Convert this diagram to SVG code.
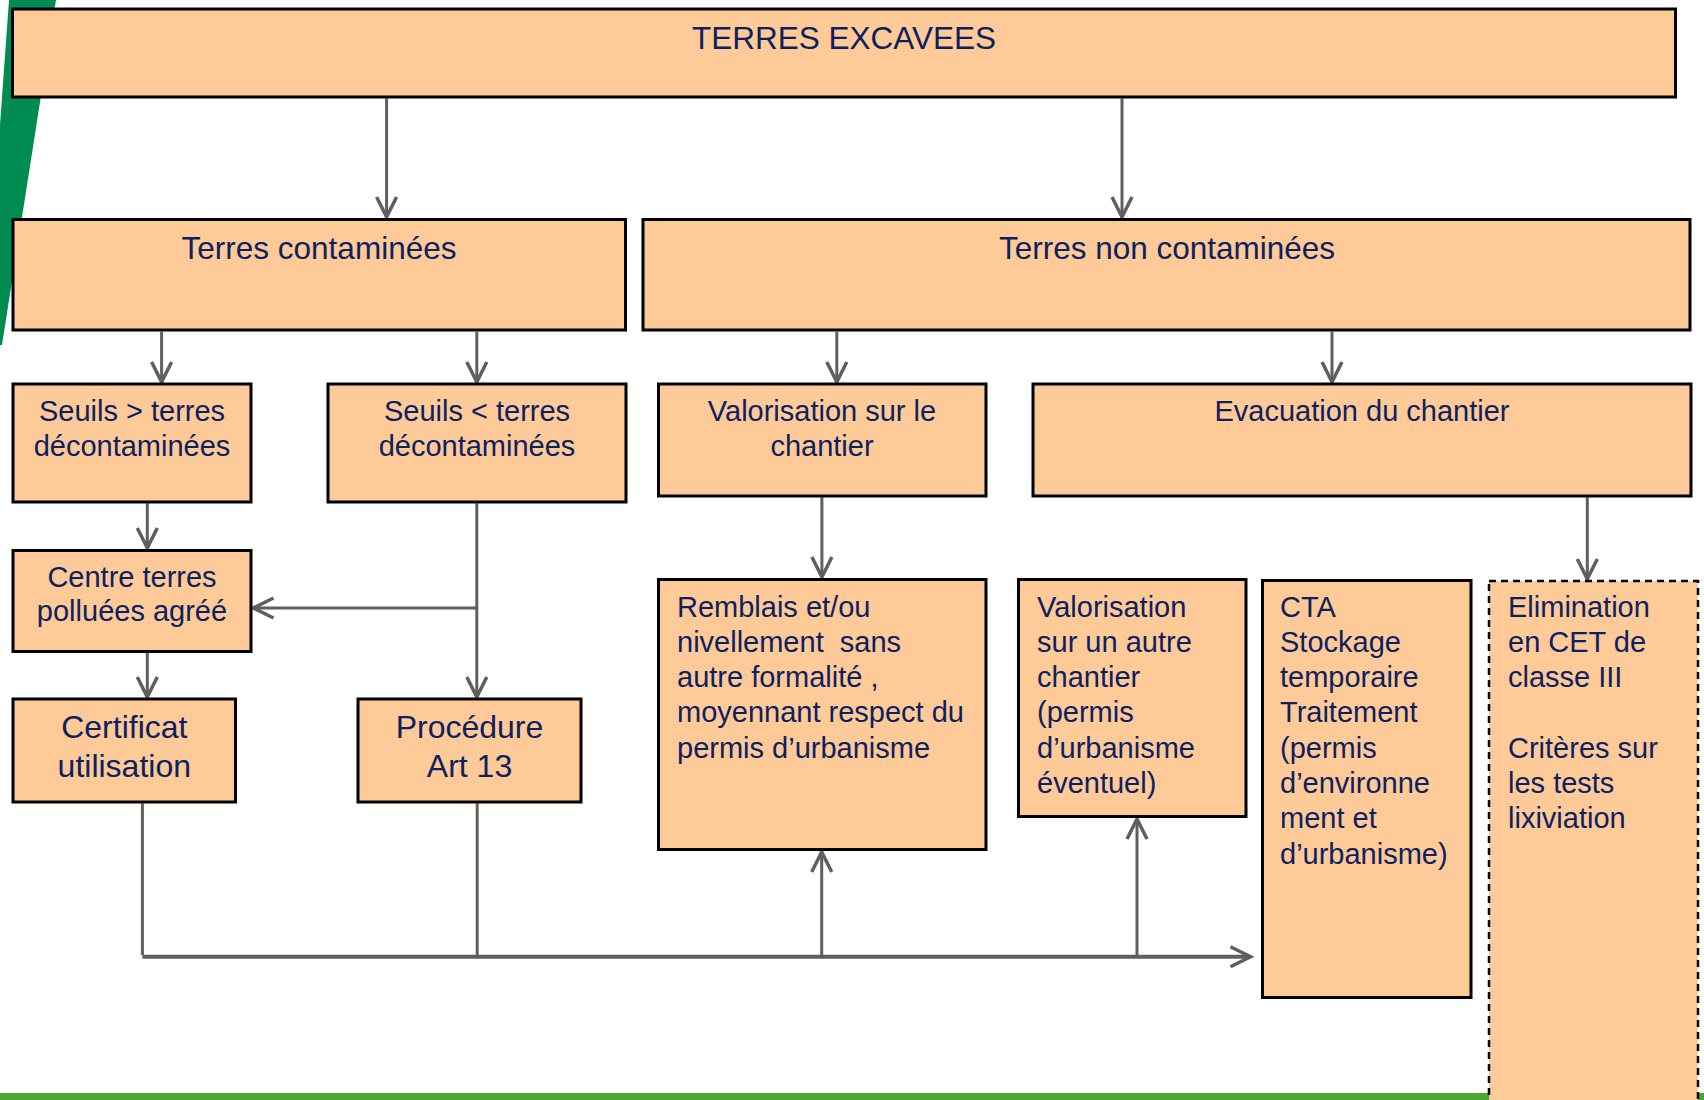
<svg xmlns="http://www.w3.org/2000/svg" width="1704" height="1100" viewBox="0 0 1704 1100">
  <defs>
    <style>
      .box { fill: #fdca98; stroke: #000; stroke-width: 3; }
      .dash { fill: #fdca98; stroke: #000; stroke-width: 2.5; stroke-dasharray: 7 5; }
      text { font-family: "Liberation Sans", Arial, sans-serif; fill: #0e215f; }
      .h { font-size: 31.5px; }
      .b { font-size: 32px; }
      .t { font-size: 29px; }
      .c { text-anchor: middle; }
      .ln { fill: none; stroke: #5f5f5f; stroke-width: 3; }
      .ar { marker-end: url(#arr); }
    </style>
    <marker id="arr" markerUnits="userSpaceOnUse" markerWidth="26" markerHeight="26" viewBox="0 0 26 26" refX="23" refY="13" orient="auto">
      <path d="M3,3 L23,13 L3,23" fill="none" stroke="#5f5f5f" stroke-width="3.5" stroke-linejoin="miter"/>
    </marker>
  </defs>

  <rect width="1704" height="1100" fill="#fff"/>
  <!-- background decorations -->
  <polygon points="9,0 56,0 2,345 0,345 0,125" fill="#008c50"/>
  <rect x="0" y="1093" width="1704" height="7" fill="#4aa832"/>

  <g id="connectors">
    <path class="ln ar" d="M386.6,98.5 V217"/>
    <path class="ln ar" d="M1122,98.5 V217"/>
    <path class="ln ar" d="M161.6,331.7 V382"/>
    <path class="ln ar" d="M476.8,331.7 V382"/>
    <path class="ln ar" d="M147.3,503.3 V548"/>
    <path class="ln ar" d="M476.8,503.3 V697"/>
    <path class="ln ar" d="M476.8,608 H253.5"/>
    <path class="ln ar" d="M147.3,653 V697"/>
    <path class="ln ar" d="M836.8,331.7 V382"/>
    <path class="ln ar" d="M1332,331.7 V382"/>
    <path class="ln ar" d="M821.9,497.3 V577"/>
    <path class="ln ar" d="M1587.3,497.3 V579"/>
    <path class="ln" d="M142.4,803.3 V955"/>
    <path class="ln" d="M477.2,803.3 V955"/>
    <path class="ln ar" d="M142.4,956.7 H1250.5" style="stroke-width:4"/>
    <path class="ln ar" d="M821.7,955 V852"/>
    <path class="ln ar" d="M1137,955 V819"/>
  </g>

  <g id="terres-excavees">
    <rect class="box" x="12.5" y="9" width="1663" height="88"/>
    <text class="h c" x="844" y="49">TERRES EXCAVEES</text>
  </g>
  <g id="terres-contaminees">
    <rect class="box" x="13" y="219.5" width="612.5" height="110.5"/>
    <text class="h c" x="319" y="258.5">Terres contaminées</text>
  </g>
  <g id="terres-non-contaminees">
    <rect class="box" x="643" y="219.5" width="1047" height="110.5"/>
    <text class="h c" x="1167" y="258.5">Terres non contaminées</text>
  </g>
  <g id="seuils-sup">
    <rect class="box" x="13" y="384" width="238" height="118"/>
    <text class="t c" x="132" y="420.7">Seuils &gt; terres</text>
    <text class="t c" x="132" y="456">décontaminées</text>
  </g>
  <g id="seuils-inf">
    <rect class="box" x="328" y="384" width="298" height="118"/>
    <text class="t c" x="477" y="420.7">Seuils &lt; terres</text>
    <text class="t c" x="477" y="456">décontaminées</text>
  </g>
  <g id="centre-terres">
    <rect class="box" x="13" y="550.5" width="238" height="101"/>
    <text class="t c" x="132" y="586.5">Centre terres</text>
    <text class="t c" x="132" y="621">polluées agréé</text>
  </g>
  <g id="certificat">
    <rect class="box" x="13" y="699" width="222.5" height="103"/>
    <text class="b c" x="124.3" y="738.3">Certificat</text>
    <text class="b c" x="124.3" y="776.7">utilisation</text>
  </g>
  <g id="procedure">
    <rect class="box" x="358" y="699" width="223" height="103"/>
    <text class="b c" x="469.5" y="738.3">Procédure</text>
    <text class="b c" x="469.5" y="776.7">Art 13</text>
  </g>
  <g id="valorisation-chantier">
    <rect class="box" x="658.5" y="384" width="327.5" height="112"/>
    <text class="t c" x="822" y="420.7">Valorisation sur le</text>
    <text class="t c" x="822" y="456">chantier</text>
  </g>
  <g id="evacuation">
    <rect class="box" x="1033" y="384" width="658" height="112"/>
    <text class="t c" x="1362" y="420.7">Evacuation du chantier</text>
  </g>
  <g id="remblais">
    <rect class="box" x="658.5" y="579.5" width="327.5" height="270"/>
    <text class="t" x="677" y="616.5">Remblais et/ou</text>
    <text class="t" x="677" y="651.8" xml:space="preserve">nivellement  sans</text>
    <text class="t" x="677" y="687.1">autre formalité ,</text>
    <text class="t" x="677" y="722.4">moyennant respect du</text>
    <text class="t" x="677" y="757.7">permis d’urbanisme</text>
  </g>
  <g id="valorisation-autre">
    <rect class="box" x="1018.5" y="579.5" width="227.5" height="237"/>
    <text class="t" x="1037" y="616.5">Valorisation</text>
    <text class="t" x="1037" y="651.8">sur un autre</text>
    <text class="t" x="1037" y="687.1">chantier</text>
    <text class="t" x="1037" y="722.4">(permis</text>
    <text class="t" x="1037" y="757.7">d’urbanisme</text>
    <text class="t" x="1037" y="793">éventuel)</text>
  </g>
  <g id="cta">
    <rect class="box" x="1262.5" y="580.5" width="208.5" height="417"/>
    <text class="t" x="1280" y="616.5">CTA</text>
    <text class="t" x="1280" y="651.8">Stockage</text>
    <text class="t" x="1280" y="687.1">temporaire</text>
    <text class="t" x="1280" y="722.4">Traitement</text>
    <text class="t" x="1280" y="757.7">(permis</text>
    <text class="t" x="1280" y="793">d’environne</text>
    <text class="t" x="1280" y="828.3">ment et</text>
    <text class="t" x="1280" y="863.6">d’urbanisme)</text>
  </g>
  <g id="elimination">
    <rect class="dash" x="1489" y="581" width="209" height="540"/>
    <text class="t" x="1508" y="616.5">Elimination</text>
    <text class="t" x="1508" y="651.8">en CET de</text>
    <text class="t" x="1508" y="687.1">classe III</text>
    <text class="t" x="1508" y="757.7">Critères sur</text>
    <text class="t" x="1508" y="793">les tests</text>
    <text class="t" x="1508" y="828.3">lixiviation</text>
  </g>
</svg>
